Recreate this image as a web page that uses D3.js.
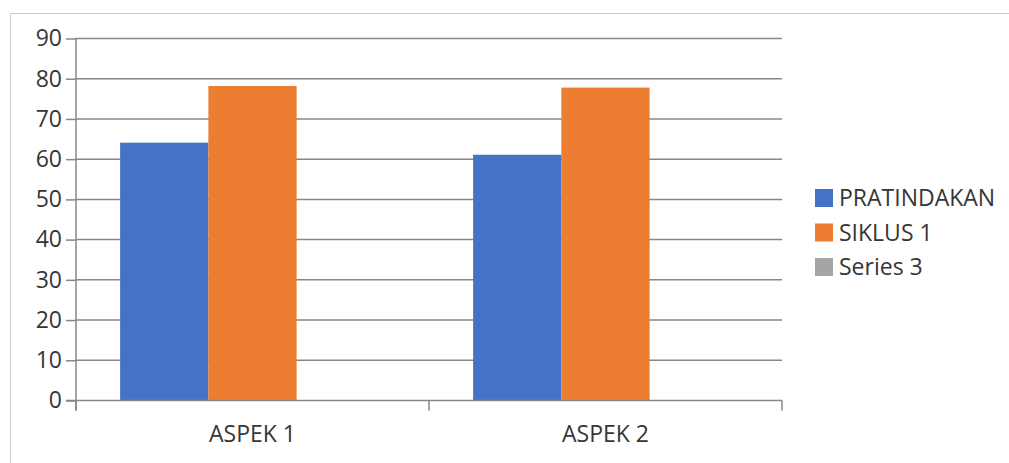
<!DOCTYPE html>
<html>
<head>
<meta charset="utf-8">
<script src="https://cdn.jsdelivr.net/npm/d3@7"></script>
<style>
  html, body { margin: 0; padding: 0; background: #fff; }
  svg { display: block; font-family: "Open Sans", "Noto Sans", sans-serif; }
</style>
</head>
<body>
<svg id="chart" width="1009" height="463"></svg>
<script>
// Chart data
const categories = ["ASPEK 1", "ASPEK 2"];
const seriesNames = ["PRATINDAKAN", "SIKLUS 1", "Series 3"];
const pratindakan = [64.1, 61.1];
const siklus1 = [78.2, 77.8];
const series3 = [null, null];
const yTicks = [0, 10, 20, 30, 40, 50, 60, 70, 80, 90];
const colors = ["#4472C4", "#ED7D31", "#A5A5A5"];

const seriesValues = [pratindakan, siklus1, series3];

const svg = d3.select("#chart");
const W = 1009, H = 463;
const plot = { left: 76, right: 782, top: 38.5, bottom: 400.5 };
const fontSize = "23px";
const textColor = "#363636";

// Outer chart frame (top and left edges)
svg.append("path")
  .attr("d", `M10.5,${H} V13.5 H${W}`)
  .attr("fill", "none")
  .attr("stroke", "#c8c8c8")
  .attr("stroke-width", 1);

const x0 = d3.scaleBand()
  .domain(categories)
  .range([plot.left, plot.right])
  .paddingInner(0.25)
  .paddingOuter(0.125);

const x1 = d3.scaleBand()
  .domain(seriesNames)
  .range([0, x0.bandwidth()]);

const y = d3.scaleLinear().domain([0, 90]).range([plot.bottom, plot.top]);

// Horizontal gridlines
svg.append("g")
  .selectAll("line")
  .data(yTicks.filter(t => t > 0))
  .join("line")
  .attr("x1", plot.left).attr("x2", plot.right)
  .attr("y1", d => y(d)).attr("y2", d => y(d))
  .attr("stroke", "#878787")
  .attr("stroke-width", 1.5);

// Bars
const groups = svg.append("g")
  .selectAll("g")
  .data(categories)
  .join("g")
  .attr("transform", d => `translate(${x0(d)},0)`);

groups.selectAll("rect")
  .data((d, i) => seriesNames.map((s, j) => ({ s, j, v: seriesValues[j][i] })).filter(e => e.v != null))
  .join("rect")
  .attr("x", d => x1(d.s))
  .attr("width", x1.bandwidth())
  .attr("y", d => y(d.v))
  .attr("height", d => y(0) - y(d.v))
  .attr("fill", d => colors[d.j]);

// Y axis
const yAxis = d3.axisLeft(y)
  .tickValues(yTicks)
  .tickSize(10)
  .tickPadding(4)
  .tickFormat(d3.format("d"));

const gy = svg.append("g")
  .attr("transform", `translate(${plot.left},0)`)
  .call(yAxis);
gy.select(".domain").attr("d", `M0,${plot.top} V${plot.bottom + 10}`);

// X axis with ticks on category boundaries
const gx = svg.append("g")
  .attr("transform", `translate(0,${plot.bottom})`);
gx.append("line")
  .attr("x1", plot.left - 10).attr("x2", plot.right)
  .attr("y1", 0).attr("y2", 0);
const boundaries = [plot.left, (x0(categories[0]) + x0.bandwidth() + x0(categories[1])) / 2, plot.right];
gx.selectAll("line.tick")
  .data(boundaries)
  .join("line")
  .attr("class", "tick")
  .attr("x1", d => d).attr("x2", d => d)
  .attr("y1", 0).attr("y2", 10);
gx.selectAll("line")
  .attr("stroke", "#878787")
  .attr("stroke-width", 1.5);
gx.selectAll("text")
  .data(categories)
  .join("text")
  .attr("x", d => x0(d) + x0.bandwidth() / 2)
  .attr("y", 33)
  .attr("dy", "0.35em")
  .attr("text-anchor", "middle")
  .attr("fill", textColor)
  .style("font-size", fontSize)
  .text(d => d);

gy.selectAll(".tick line").attr("stroke", "#878787").attr("stroke-width", 1.5);
gy.select(".domain").attr("stroke", "#878787").attr("stroke-width", 1.5);
gy.selectAll(".tick text")
  .attr("fill", textColor)
  .style("font-size", fontSize)
  .style("font-family", "'Open Sans', 'Noto Sans', sans-serif");

// Legend
const legend = svg.append("g")
  .selectAll("g")
  .data(seriesNames)
  .join("g")
  .attr("transform", (d, i) => `translate(815,${198 + i * 34.5})`);
legend.append("rect")
  .attr("x", 0).attr("y", -9)
  .attr("width", 18).attr("height", 18)
  .attr("fill", (d, i) => colors[i]);
legend.append("text")
  .attr("x", 24).attr("y", 0)
  .attr("dy", "0.35em")
  .attr("fill", textColor)
  .style("font-size", fontSize)
  .text(d => d);
</script>
</body>
</html>
